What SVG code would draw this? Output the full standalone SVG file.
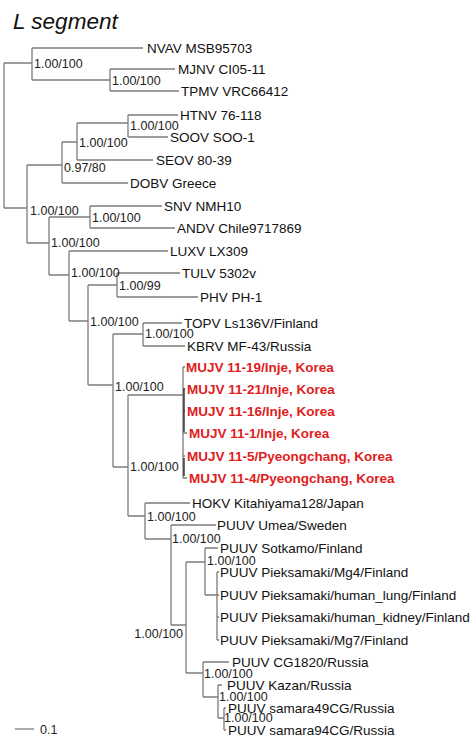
<svg xmlns="http://www.w3.org/2000/svg" width="471" height="737" viewBox="0 0 471 737">
<style>
.br{fill:none;stroke:#7c7c7c;stroke-width:1.3}
.dk{fill:none;stroke:#222;stroke-width:1.3}
.lf{font-family:"Liberation Sans",Arial,sans-serif;font-size:13.5px;fill:#111}
.mu{font-family:"Liberation Sans",Arial,sans-serif;font-size:13.5px;font-weight:bold;fill:#e0201c}
.sp{font-family:"Liberation Sans",Arial,sans-serif;font-size:12.5px;fill:#222}
.ti{font-family:"Liberation Sans",Arial,sans-serif;font-size:22.5px;font-style:italic;fill:#111}
</style>
<rect width="471" height="737" fill="#fff"/>
<text class="ti" x="13" y="29">L segment</text>
<g id="connectors">
<path class="br" d="M4,63V208M4,63H32M4,208H27"/>
<path class="br" d="M32,48V80M32,48H143M32,80H110"/>
<path class="br" d="M110,69V91M110,69H175M110,91H179"/>
<path class="br" d="M27,165V243M27,165H62M27,243H49"/>
<path class="br" d="M62,142V183M62,142H77M62,183H128"/>
<path class="br" d="M77,123V160M77,123H128M77,160H153"/>
<path class="br" d="M128,115V137M128,115H178M128,137H168"/>
<path class="br" d="M49,217V275M49,217H90M49,275H69"/>
<path class="br" d="M90,206V228M90,206H162M90,228H175"/>
<path class="br" d="M69,251V321M69,251H168M69,321H88"/>
<path class="br" d="M88,285V385M88,285H117M88,385H113"/>
<path class="br" d="M117,273V297M117,273H180M117,297H198"/>
<path class="br" d="M113,334V467M113,334H143M113,467H128"/>
<path class="br" d="M143,323V346M143,323H182M143,346H185"/>
<path class="br" d="M128,395V516M128,395H183M128,516H145"/>
<path class="br" d="M183,367V478M183,367H185M183,389H185M183,411H185M183,433H187M183,456H185M183,478H187"/>
<path class="dk" d="M184,388V432M184,458V476"/>
<path class="br" d="M145,503V539M145,503H190M145,539H171"/>
<path class="br" d="M171,525V625M171,525H216M171,625H186"/>
<path class="br" d="M186,562V673M186,562H205M186,673H203"/>
<path class="br" d="M205,548V595M205,548H218M205,595H217"/>
<path class="br" d="M217,572V640M217,572H219M217,595H219M217,617H219M217,640H219"/>
<path class="br" d="M203,662V697M203,662H229M203,697H218"/>
<path class="br" d="M218,685V718M218,685H222M218,718H224"/>
<path class="br" d="M224,708V730M224,708H226M224,730H226"/>
<path class="br" d="M15,729H34"/>
</g>
<g id="leaves">
<g id="NVAV"><text class="lf" x="147" y="52.7">NVAV MSB95703</text></g>
<g id="MJNV"><text class="lf" x="178" y="73.7">MJNV CI05-11</text></g>
<g id="TPMV"><text class="lf" x="181" y="95.7">TPMV VRC66412</text></g>
<g id="HTNV"><text class="lf" x="180" y="119.7">HTNV 76-118</text></g>
<g id="SOOV"><text class="lf" x="170" y="141.7">SOOV SOO-1</text></g>
<g id="SEOV"><text class="lf" x="156" y="164.7">SEOV 80-39</text></g>
<g id="DOBV"><text class="lf" x="130" y="187.7">DOBV Greece</text></g>
<g id="SNV"><text class="lf" x="164" y="210.7">SNV NMH10</text></g>
<g id="ANDV"><text class="lf" x="177" y="232.7">ANDV Chile9717869</text></g>
<g id="LUXV"><text class="lf" x="170" y="255.7">LUXV LX309</text></g>
<g id="TULV"><text class="lf" x="182" y="277.7">TULV 5302v</text></g>
<g id="PHV"><text class="lf" x="200" y="301.7">PHV PH-1</text></g>
<g id="TOPV"><text class="lf" x="184" y="327.7">TOPV Ls136V/Finland</text></g>
<g id="KBRV"><text class="lf" x="187" y="350.7">KBRV MF-43/Russia</text></g>
<g id="MUJV11-19"><text class="mu" x="186" y="371.7">MUJV 11-19/Inje, Korea</text></g>
<g id="MUJV11-21"><text class="mu" x="187" y="393.7">MUJV 11-21/Inje, Korea</text></g>
<g id="MUJV11-16"><text class="mu" x="187" y="415.7">MUJV 11-16/Inje, Korea</text></g>
<g id="MUJV11-1"><text class="mu" x="189" y="437.7">MUJV 11-1/Inje, Korea</text></g>
<g id="MUJV11-5"><text class="mu" x="187" y="460.7">MUJV 11-5/Pyeongchang, Korea</text></g>
<g id="MUJV11-4"><text class="mu" x="189" y="482.7">MUJV 11-4/Pyeongchang, Korea</text></g>
<g id="HOKV"><text class="lf" x="192" y="507.7">HOKV Kitahiyama128/Japan</text></g>
<g id="PUUV-Umea"><text class="lf" x="217" y="529.7">PUUV Umea/Sweden</text></g>
<g id="PUUV-Sotkamo"><text class="lf" x="220" y="552.7">PUUV Sotkamo/Finland</text></g>
<g id="PUUV-Mg4"><text class="lf" x="220" y="576.7">PUUV Pieksamaki/Mg4/Finland</text></g>
<g id="PUUV-lung"><text class="lf" x="220" y="599.7">PUUV Pieksamaki/human_lung/Finland</text></g>
<g id="PUUV-kidney"><text class="lf" x="220" y="621.7">PUUV Pieksamaki/human_kidney/Finland</text></g>
<g id="PUUV-Mg7"><text class="lf" x="220" y="644.7">PUUV Pieksamaki/Mg7/Finland</text></g>
<g id="PUUV-CG1820"><text class="lf" x="232" y="666.7">PUUV CG1820/Russia</text></g>
<g id="PUUV-Kazan"><text class="lf" x="227" y="689.7">PUUV Kazan/Russia</text></g>
<g id="PUUV-samara49CG"><text class="lf" x="228" y="712.7">PUUV samara49CG/Russia</text></g>
<g id="PUUV-samara94CG"><text class="lf" x="228" y="734.7">PUUV samara94CG/Russia</text></g>
</g>
<g id="supports">
<g id="s-A"><text class="sp" x="34" y="68.4">1.00/100</text></g>
<g id="s-A2"><text class="sp" x="112" y="85.4">1.00/100</text></g>
<g id="s-B"><text class="sp" x="30" y="215.4">1.00/100</text></g>
<g id="s-H"><text class="sp" x="64" y="172.4">0.97/80</text></g>
<g id="s-H2"><text class="sp" x="79" y="147.4">1.00/100</text></g>
<g id="s-HS"><text class="sp" x="130" y="130.4">1.00/100</text></g>
<g id="s-N"><text class="sp" x="51" y="247.4">1.00/100</text></g>
<g id="s-NW"><text class="sp" x="92" y="222.4">1.00/100</text></g>
<g id="s-L"><text class="sp" x="71" y="277.4">1.00/100</text></g>
<g id="s-TP"><text class="sp" x="119" y="290.4">1.00/99</text></g>
<g id="s-M"><text class="sp" x="90" y="326.4">1.00/100</text></g>
<g id="s-TK"><text class="sp" x="145" y="338.4">1.00/100</text></g>
<g id="s-K"><text class="sp" x="115" y="391.4">1.00/100</text></g>
<g id="s-P"><text class="sp" x="130" y="471.4">1.00/100</text></g>
<g id="s-HP"><text class="sp" x="147" y="521.4">1.00/100</text></g>
<g id="s-U"><text class="sp" x="172" y="543.4">1.00/100</text></g>
<g id="s-S"><text class="sp" x="207" y="565.4">1.00/100</text></g>
<g id="s-Q"><text class="sp" x="183" y="638.4" text-anchor="end">1.00/100</text></g>
<g id="s-C"><text class="sp" x="204" y="678.4">1.00/100</text></g>
<g id="s-Kz"><text class="sp" x="219" y="701.4">1.00/100</text></g>
<g id="s-Sa"><text class="sp" x="224" y="722.4">1.00/100</text></g>
</g>
<g id="scale"><text class="sp" x="40" y="734">0.1</text></g>
</svg>
